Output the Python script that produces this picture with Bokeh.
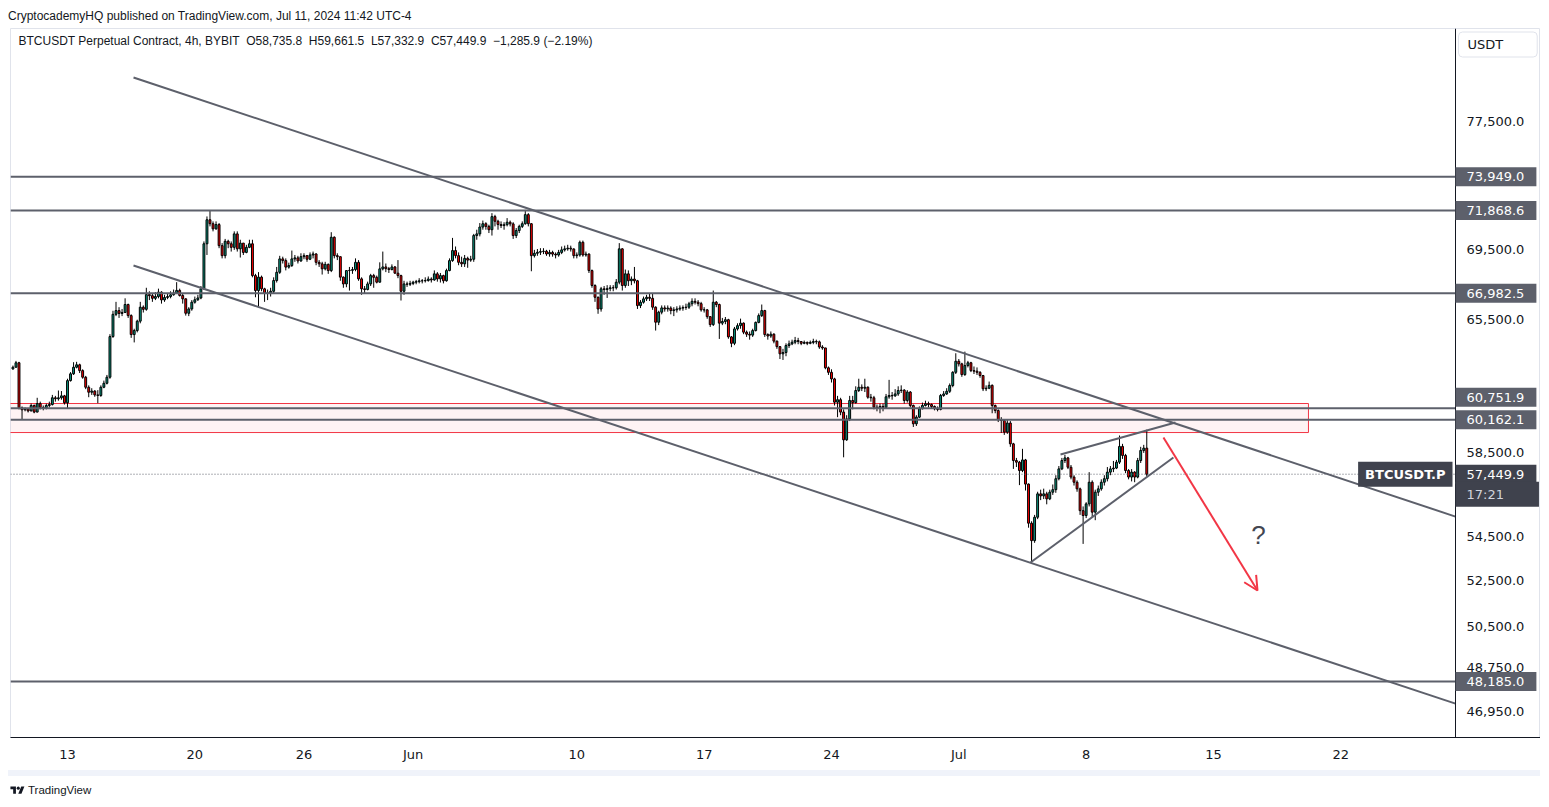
from datetime import datetime, timedelta
from bokeh.plotting import figure
from bokeh.models import (ColumnDataSource, Span, Label, Arrow, OpenHead, FixedTicker,
                          NumeralTickFormatter, Range1d, Div)
from bokeh.layouts import column
from bokeh.embed import file_html
from bokeh.resources import INLINE

EPOCH = datetime(1970, 1, 1)


def ms(d):
    return (d - EPOCH).total_seconds() * 1000.0


# ---------------- data (BTCUSDT perpetual, 4h bars from 2024-05-10 00:00) ----------------
first_bar = datetime(2024, 5, 10, 0, 0)
bar_hours = 4
first_open = 62820.0

closes = [
    62910, 63150, 60780, 60680, 60720, 60620, 60900, 60560, 61000, 60800, 60780, 60900,
    60950, 61300, 61250, 61300, 61400, 61040, 62200, 62560, 62910, 63040, 62730, 62380,
    61850, 61590, 61650, 61450, 61420, 61850, 62060, 62380, 64570, 65800, 66010, 65850,
    65900, 66350, 65730, 64680, 64900, 65420, 66200, 66080, 66910, 66850, 66700, 66800,
    67050, 66610, 66750, 66800, 66900, 67000, 67150, 66860, 66670, 65860, 66100, 66480,
    66620, 66720, 67240, 69860, 71300, 71060, 70750, 71010, 69750, 69160, 70010, 69860,
    69650, 70450, 69560, 69900, 69350, 69650, 69860, 68000, 67140, 67910, 67240, 66990,
    67000, 67100, 67715, 68190, 68970, 68870, 68490, 68580, 68970, 69030, 68850, 69100,
    69160, 68950, 69200, 69260, 68770, 68680, 68390, 68650, 68290, 70250, 69160, 69100,
    67910, 67520, 68290, 68300, 68350, 68770, 67810, 67240, 67200, 67520, 68000, 67900,
    67620, 68390, 68500, 68400, 68350, 68500, 68140, 68000, 67100, 67520, 67500, 67550,
    67620, 67650, 67700, 67700, 67715, 67800, 67750, 68100, 67810, 68000, 67700, 68290,
    68870, 69460, 69160, 68770, 68680, 69000, 68900, 68950, 70350, 70450, 70860, 71060,
    70900, 70700, 71490, 71210, 71010, 70950, 71000, 71150, 71050, 70350, 70650, 70900,
    71060, 71610, 71060, 69160, 69300, 69360, 69400, 69420, 69260, 69350, 69250, 69200,
    69350, 69500, 69560, 69600, 69550, 69160, 69200, 69950, 69200, 69250, 68290, 67430,
    66760, 66100, 67240, 67200, 67250, 67300, 67300, 67620, 69560, 67430, 68100, 67700,
    67800, 67700, 66290, 66480, 66670, 66760, 66700, 66200, 65360, 65920, 66160, 66100,
    66150, 66010, 66050, 66100, 66150, 66180, 66200, 66390, 66530, 66480, 66400, 66050,
    66050, 65670, 65230, 66480, 66350, 65310, 65400, 65500, 64550, 64200, 64990, 65170,
    65310, 64810, 64700, 64650, 64900, 65350, 65730, 66010, 64680, 64600, 64700, 64320,
    64020, 63630, 63700, 64080, 64170, 64260, 64350, 64300, 64200, 64250, 64200, 64250,
    64300, 64280, 64000, 63950, 62880, 62640, 62290, 61070, 61200, 60560, 59150, 60210,
    61160, 61050, 61680, 61850, 61800, 61850, 61330, 61300, 60810, 60750, 60850, 60800,
    61350, 61420, 61400, 61500, 61680, 61700, 61160, 61600, 60900, 59960, 60300, 60730,
    60900, 60990, 60950, 60850, 60730, 60700, 61420, 61500, 61640, 61940, 62640, 63230,
    63090, 62520, 63000, 63150, 62730, 62700, 62640, 62470, 61770, 61800, 61950, 60900,
    60640, 60170, 60130, 59540, 60000, 58950, 58120, 58040, 57630, 58150, 56970, 55110,
    54300, 55390, 56500, 56400, 56500, 56260, 56580, 56700, 57230, 57710, 58120, 58250,
    57790, 57310, 57060, 56740, 55700, 55470, 56020, 57060, 55630, 56580, 56740, 57060,
    57230, 57550, 57710, 57750, 58040, 58820, 58370, 57630, 57310, 57550, 57310, 58120,
    58620, 58735.8, 57449.9,
]

highs = [
    63000, 63250, 63200, 60850, 60800, 60760, 61000, 60950, 61300, 61100, 60900, 61000,
    61100, 61450, 61400, 61680, 61650, 61450, 62300, 62650, 63180, 63200, 63100, 62800,
    62450, 61950, 61800, 61700, 61700, 61950, 62200, 62500, 64700, 66000, 66500, 66200,
    66100, 66700, 66400, 65800, 65000, 65500, 66500, 66300, 67300, 67100, 67000, 67050,
    67250, 67100, 66900, 66950, 67100, 67200, 67620, 67250, 66950, 66700, 66200, 66600,
    66800, 66900, 67400, 70000, 71500, 71860, 71200, 71200, 71100, 69900, 70150, 70100,
    70000, 70600, 70600, 70100, 69900, 69800, 70100, 70100, 68100, 68200, 68000, 67300,
    67200, 67300, 67900, 68500, 69150, 69100, 69000, 68750, 69460, 69200, 69150, 69300,
    69300, 69200, 69350, 69400, 69300, 68900, 68800, 68800, 68700, 70550, 70300, 69300,
    69100, 67950, 68300, 68500, 68500, 69000, 68900, 67900, 67400, 67650, 68100, 68100,
    68000, 68770, 69400, 68700, 68500, 68650, 68550, 68900, 68050, 67700, 67650, 67700,
    67700, 67750, 67850, 67800, 67900, 67950, 67900, 68300, 68200, 68150, 68050, 68400,
    69000, 70210, 69700, 69350, 69100, 69200, 69100, 69150, 70450, 70700, 71100, 71250,
    71150, 71000, 71700, 71600, 71300, 71200, 71150, 71400, 71250, 71150, 70800, 71000,
    71200, 71900, 71700, 71100, 69500, 69550, 69600, 69600, 69500, 69500, 69450, 69350,
    69500, 69700, 69750, 69800, 69750, 69600, 69350, 70050, 70050, 69400, 69300, 68350,
    67500, 66800, 67350, 67400, 67450, 67450, 67450, 67800, 69900, 69600, 68350, 68300,
    67950, 68500, 67750, 66600, 66800, 66900, 66950, 66950, 66250, 66000, 66300, 66300,
    66300, 66250, 66200, 66250, 66300, 66300, 66400, 66500, 66700, 66700, 66600, 66500,
    66200, 66100, 65700, 67140, 66550, 66400, 65600, 65650, 65550, 64600, 65100, 65300,
    65560, 65350, 64900, 64850, 65000, 65400, 65850, 66350, 66050, 64750, 64850, 64750,
    64350, 64050, 63900, 64200, 64350, 64400, 64550, 64500, 64300, 64350, 64300, 64350,
    64450, 64400, 64350, 64100, 63950, 62950, 62800, 62350, 61400, 61300, 60700, 60400,
    61400, 61400, 61900, 62300, 62000, 62300, 61900, 61500, 61400, 60950, 61000, 61000,
    61500, 62240, 61600, 61750, 61900, 61950, 61750, 61700, 61650, 60950, 60400, 60850,
    61050, 61150, 61100, 61000, 60900, 60850, 61500, 61650, 61800, 62050, 62700, 63660,
    63350, 63150, 63750, 63250, 63200, 62950, 62900, 62700, 62500, 61950, 62150, 62000,
    60950, 60700, 60300, 60200, 60150, 60100, 59000, 58250, 58100, 58700, 58200, 57000,
    55200, 55500, 56600, 56700, 56750, 56600, 56700, 56950, 57400, 57850, 58250, 58400,
    58300, 57900, 57400, 57150, 56800, 55900, 56100, 57550, 57150, 56700, 56900, 57200,
    57400, 57800, 57850, 58100, 58150, 59370, 58950, 58450, 57700, 57700, 57600, 58250,
    58800, 58900, 59661.5,
]

lows = [
    62780, 62900, 60700, 60160, 60600, 60540, 60600, 60500, 60550, 60700, 60650, 60700,
    60800, 60900, 61100, 61150, 61200, 60950, 60740, 62150, 62500, 62850, 62600, 62300,
    61750, 61330, 61450, 61350, 61020, 61350, 61800, 62000, 62300, 64500, 65700, 65600,
    65700, 65900, 65600, 64500, 64250, 64800, 65300, 65900, 66000, 66600, 66500, 66600,
    66700, 66400, 66500, 66650, 66700, 66850, 66950, 66800, 66400, 65730, 65700, 66000,
    66400, 66550, 66650, 67200, 69200, 70900, 70600, 70700, 69600, 69000, 69000, 69600,
    69400, 69500, 69400, 69050, 69200, 69300, 69600, 67900, 66760, 66200, 67100, 66500,
    66600, 66800, 67000, 67600, 68100, 68700, 68300, 68400, 68500, 68800, 68700, 68800,
    68950, 68800, 68900, 69000, 68600, 68500, 68060, 68300, 68100, 68200, 69000, 68900,
    67700, 67300, 67330, 67140, 68100, 68250, 67700, 66900, 66950, 67150, 67400, 67300,
    67550, 67600, 68300, 68200, 68150, 68300, 68100, 67850, 66575, 66900, 67350, 67400,
    67450, 67500, 67550, 67550, 67600, 67650, 67600, 67700, 67650, 67600, 67550, 67650,
    68250, 68800, 69000, 68600, 68500, 68500, 68450, 68800, 68800, 70100, 70300, 70700,
    70700, 70500, 70350, 70900, 70700, 70800, 70700, 70900, 70900, 70150, 70200, 70500,
    70800, 71000, 70900, 68250, 69050, 69150, 69200, 69250, 69150, 69100, 69100, 69000,
    69100, 69250, 69400, 69450, 69400, 69000, 69000, 69100, 69100, 69100, 68150, 67300,
    66500, 65830, 65950, 66900, 66720, 67100, 67100, 67200, 67500, 67140, 67300, 67400,
    67450, 67550, 66100, 66150, 66400, 66550, 66550, 66050, 64900, 65200, 65800, 65950,
    65950, 65800, 65700, 65900, 66000, 66000, 66050, 66100, 66250, 66350, 66250, 65950,
    65900, 65550, 65100, 65150, 66200, 64440, 65200, 65250, 64450, 63990, 64100, 64900,
    65000, 64700, 64550, 64400, 64550, 64850, 65300, 65650, 64550, 64400, 64500, 64200,
    63900, 63350, 63300, 63500, 63950, 64100, 64150, 64150, 64100, 64150, 64100, 64150,
    64150, 64150, 63900, 63850, 62800, 62500, 62100, 60900, 60300, 60400, 58280, 59100,
    60100, 60700, 61000, 61600, 61650, 61600, 61250, 61100, 60700, 60600, 60500, 60600,
    60750, 61250, 61200, 61350, 61400, 61550, 61000, 61050, 60800, 59800, 59850, 60250,
    60700, 60850, 60800, 60750, 60650, 60600, 60650, 61350, 61450, 61550, 61850, 62550,
    62950, 62400, 62450, 62900, 62650, 62550, 62500, 62350, 61650, 61650, 61750, 60500,
    60500, 60050, 59500, 59400, 59450, 58800, 57710, 57800, 56920, 57550, 56660, 54900,
    53310, 54200, 55300, 56200, 56250, 56000, 56200, 56450, 56550, 57150, 57650, 58000,
    57700, 57200, 56900, 56600, 55500, 54150, 55350, 55900, 55400, 55250, 56400, 56650,
    56900, 57100, 57400, 57550, 57700, 57950, 58200, 57500, 57200, 57100, 57060, 57250,
    58000, 58500, 57332.9,
]

level_prices = [73949.0, 71868.6, 66982.5, 60751.9, 60162.1, 48185.0]
level_texts = ["73,949.0", "71,868.6", "66,982.5", "60,751.9", "60,162.1", "48,185.0"]
last_price = 57449.9
last_price_text = "57,449.9"
countdown_text = "17:21"

zone_top, zone_bottom = 61003.0, 59518.0
zone_start, zone_end = datetime(2024, 5, 1), datetime(2024, 7, 20, 5, 20)

channel_t = [datetime(2024, 5, 16, 15, 5), datetime(2024, 7, 28, 7, 20)]
channel_upper_p = [80450, 55420]
channel_lower_p = [68580, 47285]
wedge_top_t = [datetime(2024, 7, 6, 14, 10), datetime(2024, 7, 12, 21, 50)]
wedge_top_p = [58420, 60030]
wedge_bot_t = [datetime(2024, 7, 4, 22, 35), datetime(2024, 7, 12, 19, 10)]
wedge_bot_p = [53300, 58270]
arrow_t = [datetime(2024, 7, 12, 6, 0), datetime(2024, 7, 17, 10, 5)]
arrow_p = [59270, 52050]
question_t, question_p = datetime(2024, 7, 17, 11, 20), 54540

tick_dates = [datetime(2024, 5, 13), datetime(2024, 5, 20), datetime(2024, 5, 26),
              datetime(2024, 6, 1), datetime(2024, 6, 10), datetime(2024, 6, 17),
              datetime(2024, 6, 24), datetime(2024, 7, 1), datetime(2024, 7, 8),
              datetime(2024, 7, 15), datetime(2024, 7, 22)]
tick_texts = ["13", "20", "26", "Jun", "10", "17", "24", "Jul", "8", "15", "22"]
price_ticks = [77500, 69500, 65500, 58500, 54500, 52500, 50500, 48750, 46950]

SP = " \u00a0"
legend_text = ("BTCUSDT Perpetual Contract, 4h, BYBIT" + SP + "O58,735.8" + SP + "H59,661.5"
               + SP + "L57,332.9" + SP + "C57,449.9" + SP + "\u22121,285.9 (\u22122.19%)")
header_text = "CryptocademyHQ published on TradingView.com, Jul 11, 2024 11:42 UTC-4"

# ---------------- styling ----------------
UP = "#089981"
DOWN = "#ff0000"
GRAY = "#5d606b"
RED = "#f23645"
TXT = "#131722"
DARK = "#3f424d"

# chart pane: candles end at x_hi (price-scale separator); the price scale sits to its right
x_lo, x_hi = datetime(2024, 5, 9, 20, 47), datetime(2024, 7, 28, 7, 20)
x_scale_end = datetime(2024, 8, 1, 23, 29)
y_lo, y_hi = 45944, 83867

n = len(closes)
opens = [first_open] + closes[:-1]
times = [ms(first_bar + timedelta(hours=bar_hours * i)) for i in range(n)]
src = ColumnDataSource(dict(
    t=times, o=opens, c=closes, h=highs, l=lows,
    top=[max(o, c) for o, c in zip(opens, closes)],
    bot=[min(o, c) for o, c in zip(opens, closes)],
    fill=[UP if c >= o else DOWN for o, c in zip(opens, closes)],
))

p = figure(width=1532, height=742, x_axis_type="datetime", y_axis_type="log",
           y_axis_location="right", x_range=Range1d(ms(x_lo), ms(x_scale_end)),
           y_range=Range1d(y_lo, y_hi), output_backend="svg", toolbar_location=None,
           min_border_left=2, min_border_right=0, min_border_top=0, min_border_bottom=33)
p.grid.visible = False
p.outline_line_color = "#e0e3eb"
p.background_fill_color = "#ffffff"
p.border_fill_color = "#ffffff"

# zone rectangle
p.quad(left=[ms(zone_start)], right=[ms(zone_end)], top=[zone_top], bottom=[zone_bottom],
       fill_color=RED, fill_alpha=0.06, line_color=RED, line_width=1)

# candles
bar_ms = bar_hours * 3600 * 1000
p.segment(x0="t", y0="l", x1="t", y1="h", source=src, line_color="#000000", line_width=1)
p.vbar(x="t", width=bar_ms * 0.62, top="top", bottom="bot", source=src,
       fill_color="fill", line_color="#000000", line_width=1)

# horizontal levels (end at the price scale)
lv_src = ColumnDataSource(dict(x0=[ms(x_lo)] * len(level_prices),
                               x1=[ms(x_hi)] * len(level_prices), y=level_prices))
p.segment(x0="x0", y0="y", x1="x1", y1="y", source=lv_src, line_color=GRAY, line_width=2)
p.segment(x0=[ms(x_lo)], y0=[last_price], x1=[ms(x_hi)], y1=[last_price],
          line_color=GRAY, line_width=1, line_dash="1 2")

# trend lines
ct = [ms(d) for d in channel_t]
p.line(ct, channel_upper_p, line_color=GRAY, line_width=2)
p.line(ct, channel_lower_p, line_color=GRAY, line_width=2)
p.line([ms(d) for d in wedge_top_t], wedge_top_p, line_color=GRAY, line_width=2)
p.line([ms(d) for d in wedge_bot_t], wedge_bot_p, line_color=GRAY, line_width=2)

p.add_layout(Arrow(end=OpenHead(line_color=RED, line_width=2, size=14),
                   x_start=ms(arrow_t[0]), y_start=arrow_p[0],
                   x_end=ms(arrow_t[1]), y_end=arrow_p[1],
                   line_color=RED, line_width=2))
p.add_layout(Label(x=ms(question_t), y=question_p, text="?", text_align="center",
                   text_baseline="middle", text_font="Liberation Sans",
                   text_font_size="26px", text_color="#434651"))

# legend line inside chart
p.add_layout(Label(x=ms(datetime(2024, 5, 10, 7, 20)), y=82950, text=legend_text,
                   text_align="left", text_baseline="middle", text_font="Liberation Sans",
                   text_font_size="12px", text_color=TXT))

# separator between chart pane and price scale
p.add_layout(Span(location=ms(x_hi), dimension="height", line_color=TXT, line_width=1))

# axes
p.xaxis.ticker = FixedTicker(ticks=[ms(d) for d in tick_dates])
p.xaxis.major_label_overrides = {ms(d): s for d, s in zip(tick_dates, tick_texts)}
p.yaxis.ticker = FixedTicker(ticks=price_ticks)
p.yaxis.formatter = NumeralTickFormatter(format="0,0.0")
for ax in (p.xaxis, p.yaxis):
    ax.major_tick_line_color = None
    ax.minor_tick_line_color = None
    ax.major_tick_out = 0
    ax.major_tick_in = 0
    ax.major_label_text_color = TXT
    ax.major_label_text_font = "DejaVu Sans"
    ax.major_label_text_font_size = "13px"
p.xaxis.axis_line_color = TXT
p.yaxis.axis_line_color = None
p.yaxis.major_label_standoff = -74
p.xaxis.major_label_standoff = 9


def axis_box(price, text, bg, color="#ffffff", y_off=0, pad_right=12):
    p.add_layout(Label(x=ms(x_hi), y=price, y_offset=y_off, text=text, text_align="left",
                       text_baseline="middle", text_font="DejaVu Sans", text_font_size="13px",
                       text_color=color, background_fill_color=bg,
                       padding=dict(left=11, right=pad_right, top=5, bottom=5)))


for lv, tx in zip(level_prices, level_texts):
    axis_box(lv, tx, GRAY, y_off=11 if tx == "60,751.9" else 0)
axis_box(last_price, last_price_text, DARK)
axis_box(last_price, countdown_text, DARK, color="#d1d4dc", y_off=-20, pad_right=35)

p.add_layout(Label(x=ms(x_hi), y=last_price, x_offset=-3, text="BTCUSDT.P", text_align="right",
                   text_baseline="middle", text_font="DejaVu Sans", text_font_size="13px",
                   text_font_style="bold", text_color="#ffffff",
                   background_fill_color=DARK,
                   padding=dict(left=7, right=7, top=5, bottom=5)))

p.add_layout(Label(x=ms(x_hi), y=82735, x_offset=3, text="USDT", text_align="left",
                   text_baseline="middle", text_font="DejaVu Sans", text_font_size="13px",
                   text_color=TXT, background_fill_color="#ffffff",
                   border_line_color="#e0e3eb", border_line_width=1, border_radius=4,
                   padding=dict(left=9, right=34, top=5, bottom=5)))

header = Div(text=f'<div style="font-family:\'Liberation Sans\';font-size:12px;'
                  f'color:{TXT};line-height:12px;">{header_text}</div>',
             width=1532, height=20, margin=(0, 0, 0, 0))

logo = ('<svg width="15" height="11" viewBox="0 0 36 28" style="margin-right:3px">'
        '<path d="M14 22H7V11H0V4h14v18z" fill="#131722"/>'
        '<circle cx="20" cy="8" r="4" fill="#131722"/>'
        '<path d="M28 22h-8l7.5-18h8z" fill="#131722"/></svg>')
footer = Div(text=f'<div style="width:1532px;height:6px;background:#f0f3fa;"></div>'
                  f'<div style="padding-top:6px;display:flex;align-items:center;'
                  f'font-family:\'Liberation Sans\';font-size:11.5px;color:{TXT};'
                  f'padding-left:2px;">{logo}TradingView</div>',
             width=1532, height=30, margin=(0, 0, 0, 0))

layout = column(header, p, footer, spacing=0, margin=(8, 0, 0, 8))
open("out.html", "w").write(file_html(layout, INLINE))
